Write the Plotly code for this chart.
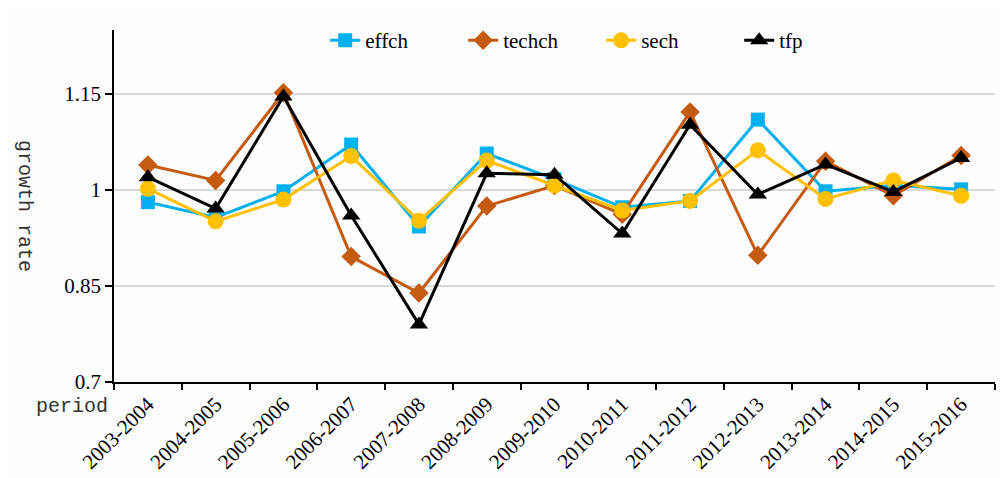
import plotly.graph_objects as go

periods = ["2003-2004", "2004-2005", "2005-2006", "2006-2007", "2007-2008", "2008-2009",
           "2009-2010", "2010-2011", "2011-2012", "2012-2013", "2013-2014", "2014-2015", "2015-2016"]
effch = [0.981, 0.957, 0.998, 1.071, 0.943, 1.057, 1.017, 0.973, 0.983, 1.110, 0.998, 1.007, 1.001]
techch = [1.039, 1.015, 1.152, 0.896, 0.839, 0.975, 1.007, 0.962, 1.122, 0.898, 1.045, 0.991, 1.054]
sech = [1.002, 0.951, 0.985, 1.053, 0.952, 1.046, 1.007, 0.968, 0.983, 1.062, 0.986, 1.015, 0.991]
tfp = [1.020, 0.971, 1.146, 0.960, 0.790, 1.026, 1.024, 0.932, 1.102, 0.993, 1.040, 0.997, 1.050]

series = [
    ("effch", effch, "#00B0F0", "square", 14),
    ("techch", techch, "#C55A11", "diamond", 15),
    ("sech", sech, "#FFC000", "circle", 16),
    ("tfp", tfp, "#000000", "triangle-up", 16),
]

fig = go.Figure()
for name, vals, color, sym, size in series:
    fig.add_trace(go.Scatter(
        x=periods, y=vals, name=name, mode="lines+markers",
        line=dict(color=color, width=3),
        marker=dict(symbol=sym, size=size, color=color),
    ))

serif = "Liberation Serif, Times New Roman, serif"
mono = "Liberation Mono, DejaVu Sans Mono, monospace"

fig.update_layout(
    width=1005, height=478,
    margin=dict(l=106, r=18, t=21, b=95),
    paper_bgcolor="#FDFDFD", plot_bgcolor="#FDFDFD",
    font=dict(family=serif, size=20, color="#000"),
    showlegend=True,
    legend=dict(orientation="h", x=0.553, xanchor="center", y=1.028, yanchor="top",
                bgcolor="rgba(0,0,0,0)", font=dict(family=serif, size=21),
                entrywidth=93, entrywidthmode="pixels"),
    xaxis=dict(
        type="category", tickson="boundaries", ticks="outside", ticklen=6,
        tickwidth=1.5, tickcolor="#000", showline=True, linecolor="#000", linewidth=1.5,
        showgrid=False, tickangle=-45, tickfont=dict(family=serif, size=21),
        range=[-0.5, 12.5],
    ),
    yaxis=dict(
        range=[0.7, 1.25], tickvals=[0.7, 0.85, 1, 1.15], ticktext=["0.7", "0.85", "1", "1.15"],
        ticks="outside", ticklen=7, tickwidth=1.5, tickcolor="#000",
        showline=True, linecolor="#000", linewidth=1.5,
        showgrid=True, gridcolor="#D9D9D9", gridwidth=2, zeroline=False,
        tickfont=dict(family=serif, size=21),
    ),
    annotations=[
        dict(text="growth rate", xref="paper", yref="paper", x=-0.101, y=0.5,
             xanchor="center", yanchor="middle",
             textangle=90, showarrow=False, font=dict(family=mono, size=20, color="#333")),
        dict(text="period", xref="paper", yref="paper", x=-0.0045, y=-0.07,
             xanchor="right", yanchor="middle", showarrow=False,
             font=dict(family=mono, size=20, color="#333")),
    ],
)

fig.write_html("out.html")
